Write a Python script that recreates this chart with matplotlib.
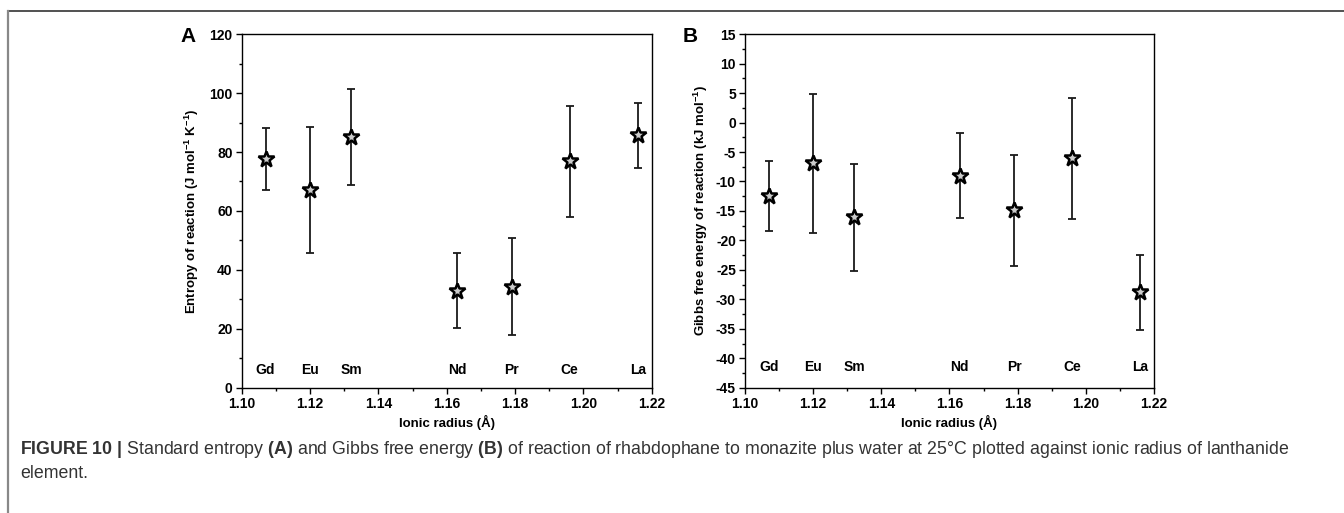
import numpy as np
import matplotlib
matplotlib.use("Agg")
import matplotlib.pyplot as plt
from matplotlib.ticker import MultipleLocator, AutoMinorLocator

plt.rcParams['font.family'] = ['Liberation Sans', 'DejaVu Sans']
plt.rcParams['mathtext.fontset'] = 'custom'
plt.rcParams['mathtext.bf'] = 'Liberation Sans:bold'
plt.rcParams['mathtext.rm'] = 'Liberation Sans'
plt.rcParams['mathtext.it'] = 'Liberation Sans:italic'
plt.rcParams['axes.unicode_minus'] = False

# Data
elements = ["Gd", "Eu", "Sm", "Nd", "Pr", "Ce", "La"]
radius = [1.107, 1.120, 1.132, 1.163, 1.179, 1.196, 1.216]

entropy = [77.5, 67.1, 85.0, 33.0, 34.4, 76.8, 85.6]
entropy_err = [10.5, 21.3, 16.3, 12.7, 16.3, 18.8, 11.0]

gibbs = [-12.5, -6.9, -16.1, -9.0, -14.9, -6.1, -28.8]
gibbs_err = [5.9, 11.8, 9.0, 7.2, 9.4, 10.3, 6.3]

fig = plt.figure(figsize=(13.44, 5.13), dpi=100)

# outer frame lines
fig.add_artist(plt.Line2D([7.5/1344, 1], [1 - 10.5/513, 1 - 10.5/513],
                          color='#333333', lw=1.2, transform=fig.transFigure))
fig.add_artist(plt.Line2D([7.5/1344, 7.5/1344], [0, 1 - 10.5/513],
                          color='#888888', lw=1.6, transform=fig.transFigure))

axA = fig.add_axes([0.1798, 0.2437, 0.3051, 0.690])
axB = fig.add_axes([0.5543, 0.2437, 0.3043, 0.690])


def style(ax):
    for s in ax.spines.values():
        s.set_linewidth(1.0)
    ax.tick_params(which='both', direction='out', top=False, right=False,
                   labelsize=10, width=1.0, pad=2.5)
    ax.tick_params(which='major', length=4)
    ax.tick_params(which='minor', length=2.5)
    for lab in ax.get_xticklabels() + ax.get_yticklabels():
        lab.set_fontweight('bold')


def draw(ax, y, yerr, label_y):
    ax.errorbar(radius, y, yerr=yerr, fmt='none', ecolor='#1a1a1a',
                elinewidth=1.3, capsize=2.8, capthick=1.3)
    ax.plot(radius, y, linestyle='none', marker='*', markersize=12,
            markerfacecolor='#cccccc', markeredgecolor='black',
            markeredgewidth=1.8)
    for x, el in zip(radius, elements):
        ax.text(x, label_y, el, ha='center', va='center', fontsize=10,
                fontweight='bold')
    ax.set_xlim(1.10, 1.22)
    ticks = np.arange(1.10, 1.2201, 0.02)
    ax.set_xticks(ticks)
    ax.set_xticklabels(["%.2f" % v for v in ticks])
    ax.xaxis.set_minor_locator(AutoMinorLocator(2))
    ax.set_xlabel(u"Ionic radius (\u00c5)", fontsize=9.5, fontweight='bold',
                  labelpad=3)


draw(axA, entropy, entropy_err, 6)
axA.set_ylim(0, 120)
axA.yaxis.set_major_locator(MultipleLocator(20))
axA.yaxis.set_minor_locator(AutoMinorLocator(2))
axA.set_ylabel(r"Entropy of reaction (J mol$^{\bf{-1}}$ K$^{\bf{-1}}$)",
               fontsize=9.5, fontweight='bold', labelpad=6)
style(axA)

draw(axB, gibbs, gibbs_err, -41.5)
axB.set_ylim(-45, 15)
axB.yaxis.set_major_locator(MultipleLocator(5))
axB.yaxis.set_minor_locator(AutoMinorLocator(2))
axB.set_ylabel(r"Gibbs free energy of reaction (kJ mol$^{\bf{-1}}$)",
               fontsize=9.5, fontweight='bold', labelpad=4)
style(axB)

fig.text(180/1344, 1 - 37/513, "A", fontsize=15, fontweight='bold',
         ha='left', va='center')
fig.text(683/1344, 1 - 37/513, "B", fontsize=15, fontweight='bold',
         ha='left', va='center')

cap = (r"$\bf{FIGURE\ 10\ |}$ Standard entropy $\bf{(A)}$ and Gibbs free energy "
       r"$\bf{(B)}$ of reaction of rhabdophane to monazite plus water at 25°C "
       "plotted against ionic radius of lanthanide")
fig.text(20/1344, 1 - 449/513, cap, fontsize=12.8, color='#333333',
         va='center')
fig.text(20/1344, 1 - 474/513, "element.", fontsize=12.8, color='#333333',
         va='center')

fig.savefig("out.png", dpi=100)
